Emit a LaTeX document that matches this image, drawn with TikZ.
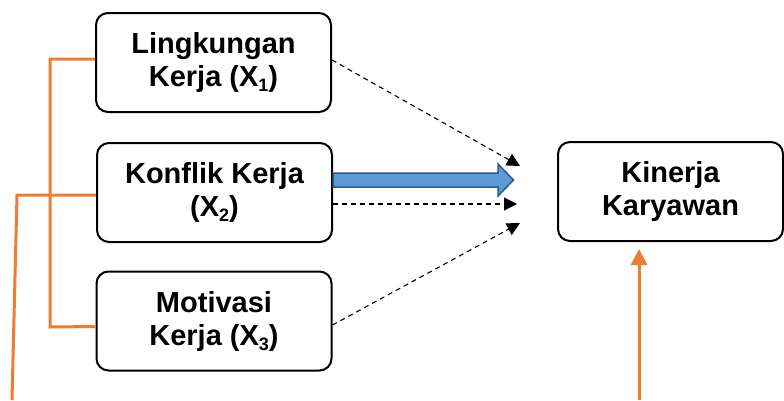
\documentclass[tikz,border=0pt]{standalone}
\usepackage{fontspec}
\setmainfont{Liberation Sans}
\usetikzlibrary{arrows.meta}
\definecolor{orng}{HTML}{ED7D31}
\definecolor{bluefill}{HTML}{5B9BD5}
\definecolor{blueedge}{HTML}{2A5A8C}
\newcommand\subx[1]{\raisebox{-5pt}{\fontsize{18}{18}\selectfont #1}}
\begin{document}
\begin{tikzpicture}[x=1pt,y=-1pt,
  varbox/.style={draw=black, line width=2pt, rounded corners=12pt, align=center,
    inner sep=0pt, minimum width=235pt, minimum height=99pt,
    font=\fontsize{29}{33}\selectfont\bfseries},
  orline/.style={draw=orng, line width=3pt},
  dashline/.style={draw=black, line width=1.1pt, dash pattern=on 5pt off 4pt,
    -{Triangle[length=13pt,width=13pt]}},
  bigarrow/.style={fill=bluefill, draw=blueedge, line width=1.5pt, line join=miter}
]
\useasboundingbox (0,0) rectangle (784,400);
\node[varbox] (b1) at (213.5,62.5) {Lingkungan\\Kerja (X\subx{1})};
\node[varbox] (b2) at (214.5,192.5) {Konflik Kerja\\(X\subx{2})};
\node[varbox] (b3) at (214,321) {Motivasi\\Kerja (X\subx{3})};
\node[varbox, minimum width=225pt] (k) at (670.5,191.5) {Kinerja\\Karyawan};

% orange bracket
\draw[orline] ([yshift=3.5pt]b1.west) -- (50,59) -- (50,327) -- ([yshift=-5.5pt]b3.west);
\coordinate (lbot) at (12,400);
\draw[orline] ([yshift=-2.5pt]b2.west) -- (17,195) -- (lbot);
% orange arrow up
\coordinate (rbot) at (639,400);
\draw[orline, shorten >=7pt, -{Triangle[length=16pt,width=16pt]}] (rbot) -- (rbot |- k.south);

% dashed arrows
\coordinate (t1) at (520,166);
\coordinate (t2) at (517,204);
\coordinate (t3) at (520,223);
\draw[dashline] ([yshift=2.5pt]b1.east) -- (t1);
\draw[dashline] ([yshift=-11.5pt]b2.east) -- (t2);
\draw[dashline] ([yshift=-4pt]b3.east) -- (t3);

% big blue arrow
\draw[bigarrow] ([yshift=19.5pt]b2.east) -- ++(165,0) -- ++(0,-9) -- ++(15.5,16) -- ++(-15.5,16) -- ++(0,-9) -- ([yshift=5.5pt]b2.east) -- cycle;
\end{tikzpicture}
\end{document}
